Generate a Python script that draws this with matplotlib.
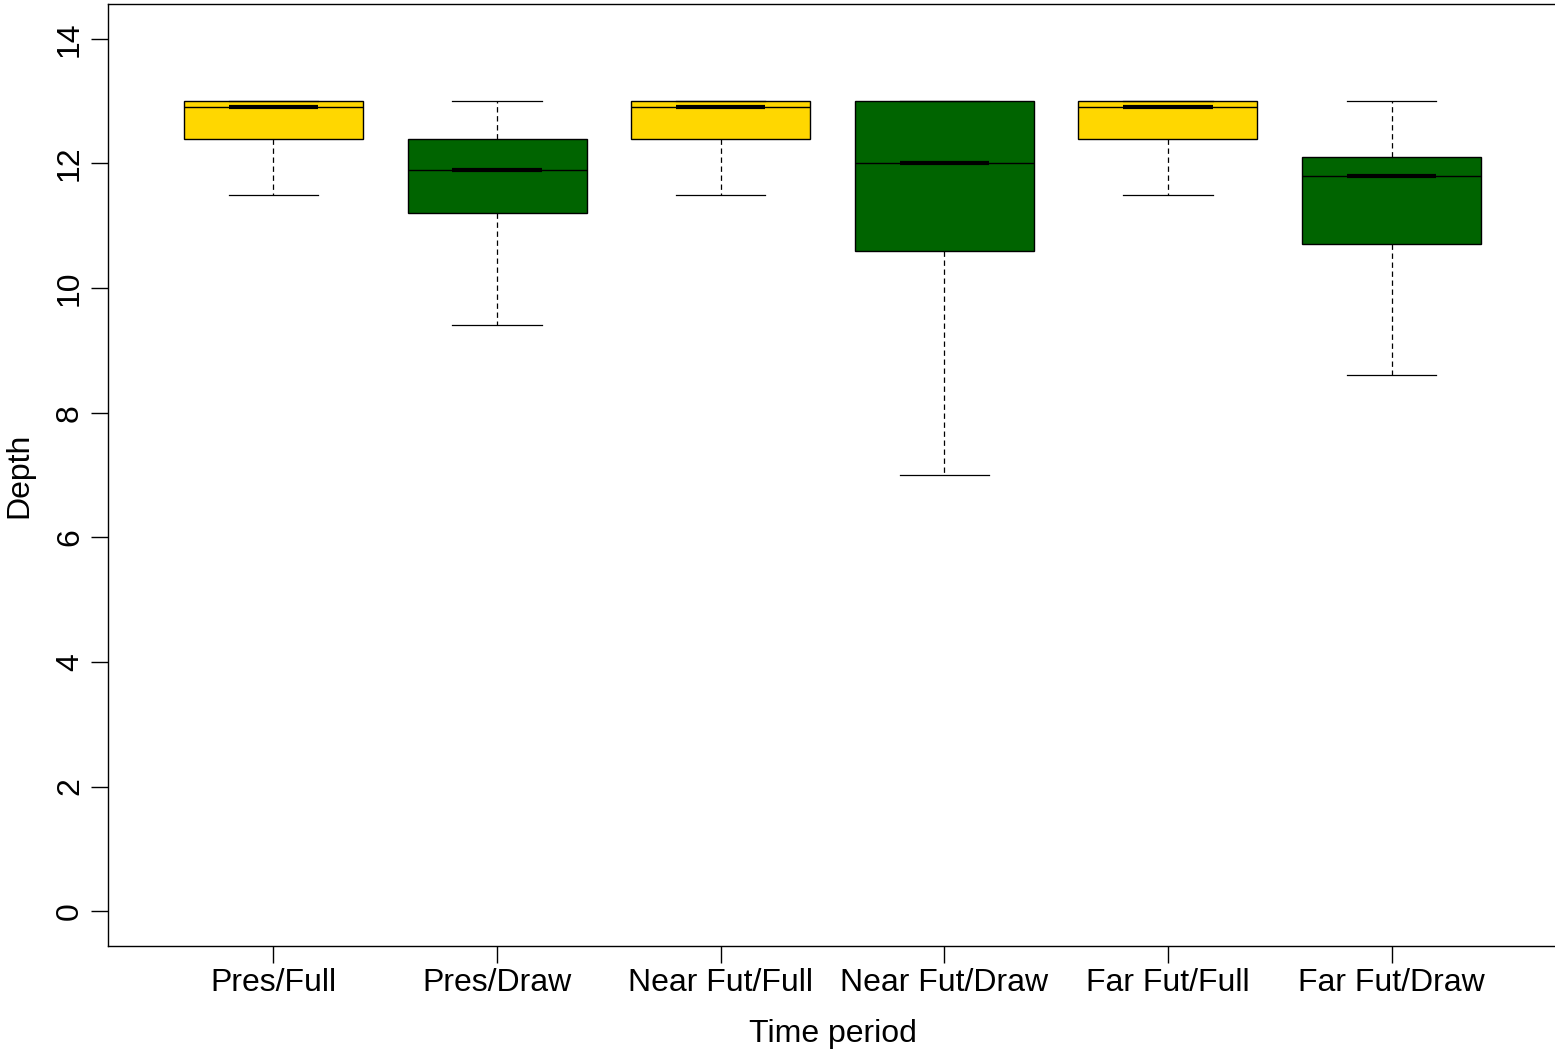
import matplotlib.pyplot as plt
import numpy as np

plt.rcParams['font.family'] = ['Liberation Sans', 'DejaVu Sans']

periods = ['Pres/Full', 'Pres/Draw', 'Near Fut/Full', 'Near Fut/Draw', 'Far Fut/Full', 'Far Fut/Draw']
whis_lo = [11.5, 9.4, 11.5, 7.0, 11.5, 8.6]
q1 = [12.4, 11.2, 12.4, 10.6, 12.4, 10.7]
medians = [12.9, 11.9, 12.9, 12.0, 12.9, 11.8]
q3 = [13.0, 12.4, 13.0, 13.0, 13.0, 12.1]
whis_hi = [13.0, 13.0, 13.0, 13.0, 13.0, 13.0]
box_colors = ['gold', 'darkgreen', 'gold', 'darkgreen', 'gold', 'darkgreen']

stats = []
for i in range(len(periods)):
    stats.append({'whislo': whis_lo[i], 'q1': q1[i], 'med': medians[i],
                  'q3': q3[i], 'whishi': whis_hi[i], 'fliers': [], 'label': periods[i]})

pos = np.arange(1, len(periods) + 1)

fig = plt.figure(figsize=(15.55, 10.52), dpi=100)
ax = fig.add_axes([108 / 1555, 1 - 946 / 1052, 1449 / 1555, 942 / 1052])

bp = ax.bxp(stats, positions=pos, widths=0.8, capwidths=0.4, patch_artist=True,
            showfliers=False,
            boxprops=dict(edgecolor='black', linewidth=1.0),
            whiskerprops=dict(color='black', linewidth=0.9, dashes=(4.3, 2.9)),
            capprops=dict(color='black', linewidth=0.9),
            medianprops=dict(color='black', linewidth=1.0))
for patch, c in zip(bp['boxes'], box_colors):
    patch.set_facecolor(c)

# heavier median bar in the middle of each box
ax.hlines(medians, pos - 0.2, pos + 0.2, colors='black', linewidth=3, zorder=5)

ax.set_xlim(0.26, 6.74)
ax.set_ylim(-0.56, 14.56)
ax.set_yticks(np.arange(0, 15, 2))
ax.set_xticks(pos)
ax.set_xticklabels(periods)
for lab in ax.get_yticklabels():
    lab.set_rotation(90)
    lab.set_va('center')
ax.tick_params(axis='both', direction='out', length=12, width=1, labelsize=23)
ax.tick_params(axis='x', pad=4)
ax.tick_params(axis='y', pad=4.5)
for s in ax.spines.values():
    s.set_linewidth(1)

ax.set_xlabel('Time period', fontsize=23, labelpad=15)
ax.set_ylabel('Depth', fontsize=23, labelpad=15)

fig.savefig('out.png', dpi=100)
